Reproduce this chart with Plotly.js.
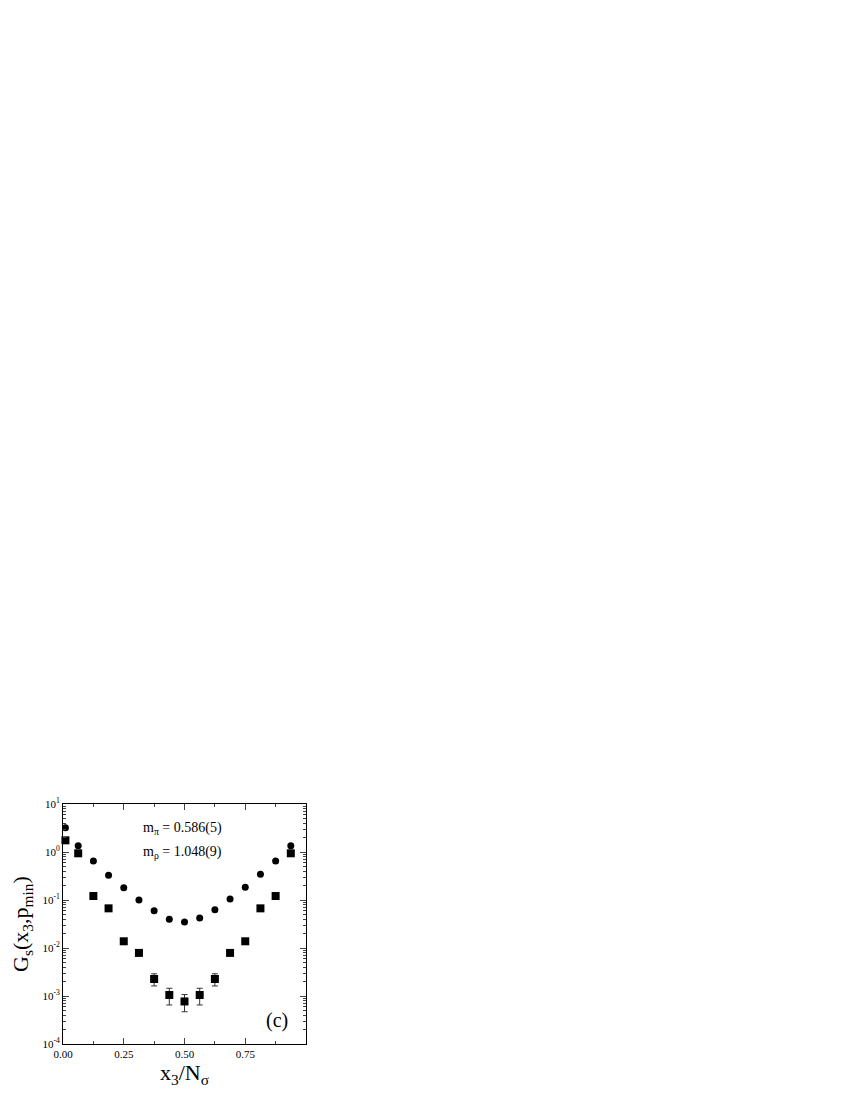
<!DOCTYPE html>
<html>
<head>
<meta charset="utf-8">
<script src="https://cdn.plot.ly/plotly-3.0.1.min.js"></script>
<style>html,body{margin:0;padding:0;background:#fff;}#chart{width:850px;height:1100px;}</style>
</head>
<body>
<div id="chart"></div>
<script>
const xPos = [0.01, 0.0625, 0.125, 0.1875, 0.25, 0.3125, 0.375, 0.4375, 0.5, 0.5625, 0.625, 0.6875, 0.75, 0.8125, 0.875, 0.9375];
const piValues = [3.2, 1.35, 0.65, 0.327, 0.18, 0.100, 0.060, 0.0395, 0.035, 0.042, 0.063, 0.105, 0.184, 0.343, 0.65, 1.35];
const rhoValues = [1.75, 0.94, 0.121, 0.067, 0.0138, 0.0079, 0.00226, 0.00105, 0.00077, 0.00105, 0.00226, 0.0079, 0.0138, 0.067, 0.121, 0.94];
const rhoErrors = [0, 0, 0, 0, 0, 0, 0.00064, 0.0004, 0.0003, 0.0004, 0.00064, 0, 0, 0, 0, 0];
const xTickVals = [0, 0.25, 0.5, 0.75];
const xTickText = ["0.00", "0.25", "0.50", "0.75"];
const yTickVals = [1e-4, 1e-3, 1e-2, 1e-1, 1, 10];
const yTickText = ["10<sup>-4</sup>", "10<sup>-3</sup>", "10<sup>-2</sup>", "10<sup>-1</sup>", "10<sup>0</sup>", "10<sup>1</sup>"];
const annotationsText = ["m<sub>π</sub> = 0.586(5)", "m<sub>ρ</sub> = 1.048(9)", "(c)"];
const xTitle = "x<sub>3</sub>/N<sub>σ</sub>";
const yTitle = "G<sub>s</sub>(x<sub>3</sub>,p<sub>min</sub>)";

const serif = "Liberation Serif";

const traces = [
  {
    x: xPos, y: piValues, type: 'scatter', mode: 'markers',
    marker: {symbol: 'circle', size: 7, color: '#000'},
    cliponaxis: false, showlegend: false
  },
  {
    x: xPos, y: rhoValues, type: 'scatter', mode: 'markers',
    marker: {symbol: 'square', size: 8, color: '#000'},
    error_y: {type: 'data', array: rhoErrors, visible: true, color: '#333', thickness: 1, width: 3},
    cliponaxis: false, showlegend: false
  }
];

const layout = {
  width: 850, height: 1100,
  margin: {l: 63, r: 544, t: 804, b: 56},
  paper_bgcolor: '#fff', plot_bgcolor: '#fff',
  font: {family: serif, color: '#000', size: 11},
  xaxis: {
    range: [0, 1], tickmode: 'array', tickvals: xTickVals, ticktext: xTickText,
    ticks: 'inside', ticklen: 6, tickwidth: 1, tickcolor: '#444',
    minor: {dtick: 0.125, tick0: 0, ticks: 'inside', ticklen: 3, tickcolor: '#444'},
    showline: true, linecolor: '#000', linewidth: 1, mirror: 'ticks',
    showgrid: false, zeroline: false,
    tickfont: {family: serif, size: 11, color: '#000'},
    title: {text: xTitle, font: {family: serif, size: 22, color: '#000'}, standoff: 4},
    automargin: false
  },
  yaxis: {
    type: 'log', range: [-4, 1], tickmode: 'array', tickvals: yTickVals, ticktext: yTickText,
    ticks: 'inside', ticklen: 6, tickwidth: 1, tickcolor: '#444',
    minor: {dtick: 'D1', ticks: 'inside', ticklen: 3, tickcolor: '#444'},
    showline: true, linecolor: '#000', linewidth: 1, mirror: 'ticks',
    showgrid: false, zeroline: false,
    tickfont: {family: serif, size: 11, color: '#000'},
    automargin: false
  },
  annotations: [
    {x: 0.32, y: 0.5, xref: 'x', yref: 'y', yanchor: 'middle', xanchor: 'left', text: annotationsText[0], showarrow: false, font: {family: serif, size: 14, color: '#000'}},
    {x: 0.32, y: 0.0, xref: 'x', yref: 'y', yanchor: 'middle', xanchor: 'left', text: annotationsText[1], showarrow: false, font: {family: serif, size: 14, color: '#000'}},
    {x: 0.88, y: -3.5, xref: 'x', yref: 'y', yanchor: 'middle', xanchor: 'center', text: annotationsText[2], showarrow: false, font: {family: serif, size: 20, color: '#000'}},
    {x: -0.169, y: 0.5, xref: 'paper', yref: 'paper', xanchor: 'center', yanchor: 'middle', textangle: -90, text: yTitle, showarrow: false, font: {family: serif, size: 22, color: '#000'}}
  ]
};
Plotly.newPlot('chart', traces, layout, {staticPlot: true});
</script>
</body>
</html>
